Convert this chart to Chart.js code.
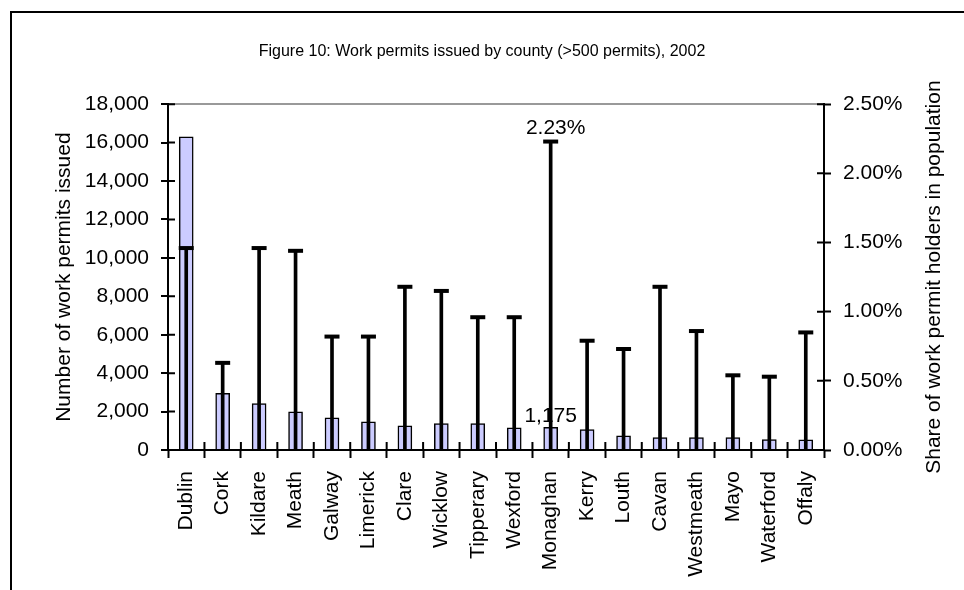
<!DOCTYPE html>
<html>
<head>
<meta charset="utf-8">
<title>Work permits by county, 2002</title>
<script src="https://cdn.jsdelivr.net/npm/chart.js@4.4.1/dist/chart.umd.min.js"></script>
<style>
  html, body { margin: 0; padding: 0; background: #fff; }
  #box { width: 964px; height: 590px; }
</style>
</head>
<body>
<div id="box"><canvas id="permits"></canvas></div>
<script>
// counties issuing more than 500 permits in 2002
var counties = ['Dublin', 'Cork', 'Kildare', 'Meath', 'Galway', 'Limerick', 'Clare', 'Wicklow',
  'Tipperary', 'Wexford', 'Monaghan', 'Kerry', 'Louth', 'Cavan', 'Westmeath', 'Mayo', 'Waterford', 'Offaly'];
// number of work permits issued
var permits = [16300, 2950, 2420, 1990, 1680, 1470, 1260, 1370, 1370, 1150, 1175, 1060, 740, 640, 640, 640, 540, 530];
// share of work permit holders in the county population, %
var shares = [1.46, 0.63, 1.46, 1.44, 0.82, 0.82, 1.18, 1.15, 0.96, 0.96, 2.23, 0.79, 0.73, 1.18, 0.86, 0.54, 0.53, 0.85];
// counties whose values get printed
var labelled = ['Monaghan'];

var FONT = "'Liberation Sans', Arial, sans-serif";

function fmtCount(v) { return Number(v).toLocaleString('en-US'); }
function fmtShare(v) { return Number(v).toFixed(2) + '%'; }

// outer frame (left and top edges only)
var framePlugin = {
  id: 'frame',
  beforeDraw: function(chart) {
    var ctx = chart.ctx;
    ctx.save();
    ctx.fillStyle = '#fff';
    ctx.fillRect(0, 0, chart.width, chart.height);
    ctx.strokeStyle = '#000';
    ctx.lineWidth = 2;
    ctx.beginPath();
    ctx.moveTo(11, chart.height);
    ctx.lineTo(11, 12);
    ctx.lineTo(chart.width, 12);
    ctx.stroke();
    ctx.restore();
  }
};

// tick marks crossing into the plot, plus the right axis title and value labels
var extrasPlugin = {
  id: 'extras',
  afterDraw: function(chart) {
    var ctx = chart.ctx;
    var x = chart.scales.x, y = chart.scales.y, y1 = chart.scales.y1;
    ctx.save();
    ctx.strokeStyle = '#000';
    ctx.lineWidth = 2;
    ctx.beginPath();
    y.ticks.forEach(function(t, i) {
      var py = y.getPixelForTick(i);
      ctx.moveTo(y.right, py); ctx.lineTo(y.right + 7, py);
    });
    y1.ticks.forEach(function(t, i) {
      var py = y1.getPixelForTick(i);
      ctx.moveTo(y1.left, py); ctx.lineTo(y1.left - 7, py);
    });
    var step = x.width / counties.length;
    for (var i = 0; i <= counties.length; i++) {
      var px = x.left + i * step;
      ctx.moveTo(px, x.top); ctx.lineTo(px, x.top - 8);
    }
    ctx.stroke();

    // right axis title reads bottom to top
    ctx.fillStyle = '#000';
    ctx.font = '21px ' + FONT;
    ctx.textAlign = 'center';
    ctx.textBaseline = 'middle';
    ctx.translate(934, (chart.chartArea.top + chart.chartArea.bottom) / 2);
    ctx.rotate(-Math.PI / 2);
    ctx.fillText('Share of work permit holders in population', 0, 0);
    ctx.restore();

    ctx.save();
    ctx.fillStyle = '#000';
    ctx.font = '21px ' + FONT;
    ctx.textAlign = 'center';
    ctx.textBaseline = 'alphabetic';
    var bars = chart.getDatasetMeta(0).data;
    var caps = chart.getDatasetMeta(2).data;
    labelled.forEach(function(name) {
      var i = counties.indexOf(name);
      ctx.fillText(fmtShare(shares[i]), caps[i].x + 5, caps[i].y - 8);
      ctx.fillText(fmtCount(permits[i]), bars[i].x, bars[i].y - 5);
    });
    ctx.restore();
  }
};

new Chart(document.getElementById('permits'), {
  type: 'bar',
  data: {
    labels: counties,
    datasets: [
      {
        label: 'Work permits',
        data: permits,
        yAxisID: 'y',
        backgroundColor: '#CCCCFF',
        borderColor: '#000',
        borderWidth: 1.5,
        barThickness: 14,
        grouped: false,
        order: 2
      },
      {
        label: 'Share of population',
        data: shares.map(function(v) { return [0, v]; }),
        yAxisID: 'y1',
        backgroundColor: '#000',
        borderWidth: 0,
        barThickness: 3,
        grouped: false,
        order: 1
      },
      {
        type: 'line',
        label: 'Share cap',
        data: shares,
        yAxisID: 'y1',
        showLine: false,
        pointStyle: 'line',
        pointRadius: 7.5,
        pointBorderWidth: 4,
        pointBorderColor: '#000',
        pointBackgroundColor: '#000',
        clip: false,
        order: 0
      }
    ]
  },
  options: {
    responsive: true,
    maintainAspectRatio: false,
    animation: false,
    events: [],
    layout: { padding: 0 },
    plugins: {
      legend: { display: false },
      tooltip: { enabled: false },
      title: {
        display: true,
        text: 'Figure 10: Work permits issued by county (>500 permits), 2002',
        color: '#000',
        font: { family: FONT, size: 16, weight: 'normal' },
        padding: { top: 42, bottom: 43 }
      }
    },
    scales: {
      x: {
        afterFit: function(s) { s.height = 140; },
        grid: { offset: true, drawOnChartArea: false, tickColor: '#000', tickLength: 8, tickWidth: 2 },
        border: { color: '#000', width: 2 },
        ticks: {
          color: '#000',
          font: { family: FONT, size: 21 },
          minRotation: 90,
          maxRotation: 90,
          autoSkip: false,
          padding: 13
        }
      },
      y: {
        position: 'left',
        min: 0,
        max: 18000,
        afterFit: function(s) { s.width = 168; },
        grid: {
          color: function(c) { return c.tick && c.tick.value === 18000 ? '#999' : 'rgba(0,0,0,0)'; },
          lineWidth: 2,
          tickColor: '#000',
          tickLength: 7,
          tickWidth: 2
        },
        border: { color: '#000', width: 2 },
        ticks: {
          stepSize: 2000,
          color: '#000',
          font: { family: FONT, size: 21 },
          padding: 12,
          callback: function(v) { return fmtCount(v); }
        },
        title: {
          display: true,
          text: 'Number of work permits issued',
          color: '#000',
          font: { family: FONT, size: 21 },
          padding: { top: 52, bottom: 0 }
        }
      },
      y1: {
        position: 'right',
        min: 0,
        max: 2.5,
        afterFit: function(s) { s.width = 140; },
        grid: { drawOnChartArea: false, tickColor: '#000', tickLength: 7, tickWidth: 2 },
        border: { color: '#000', width: 2 },
        ticks: {
          stepSize: 0.5,
          color: '#000',
          font: { family: FONT, size: 21 },
          padding: 12,
          callback: function(v) { return fmtShare(v); }
        }
      }
    }
  },
  plugins: [framePlugin, extrasPlugin]
});
</script>
</body>
</html>
